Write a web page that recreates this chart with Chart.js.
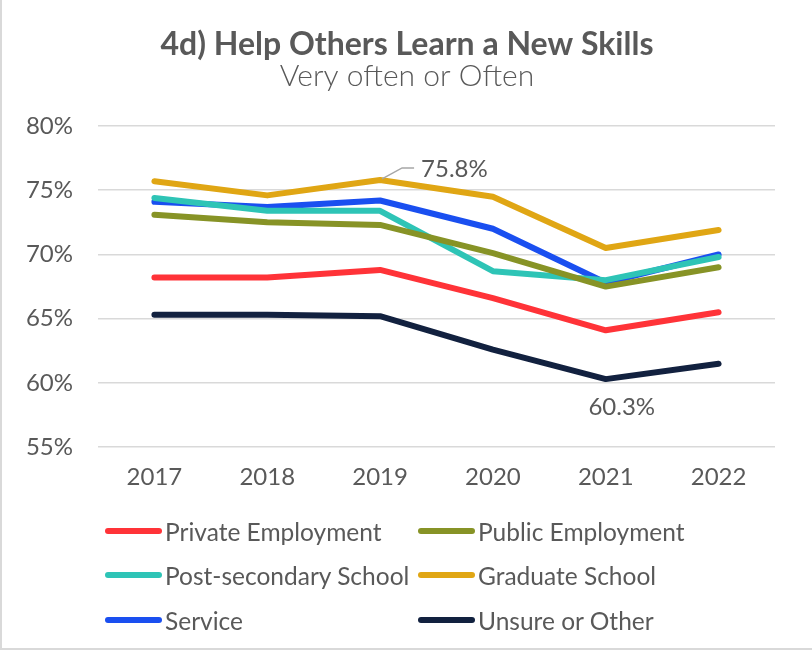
<!DOCTYPE html>
<html>
<head>
<meta charset="utf-8">
<script src="https://cdn.jsdelivr.net/npm/chart.js@4.4.0/dist/chart.umd.min.js"></script>
<style>
  html, body { margin: 0; padding: 0; background: #fff; }
  #wrap { position: relative; width: 812px; height: 650px; box-sizing: border-box;
          border-left: 2px solid #d9d9d9; border-bottom: 2px solid #d9d9d9; }
  #legend { position: absolute; left: 0; top: 0; width: 812px; height: 650px; pointer-events: none;
            font-family: Lato, "Noto Sans", sans-serif; font-size: 24.5px; color: #595959; }
  .item { position: absolute; display: flex; align-items: center; height: 30px; }
  .swatch { width: 57px; height: 6px; border-radius: 3px; margin-right: 3px; }
</style>
</head>
<body>
<div id="wrap">
  <canvas id="chart" width="810" height="648"></canvas>
  <div id="legend"></div>
</div>
<script>
var years = ['2017', '2018', '2019', '2020', '2021', '2022'];

var privateEmployment = [68.2, 68.2, 68.8, 66.6, 64.1, 65.5];
var publicEmployment = [73.1, 72.5, 72.3, 70.1, 67.5, 69.0];
var postSecondary = [74.4, 73.4, 73.4, 68.7, 68.0, 69.8];
var graduateSchool = [75.7, 74.6, 75.8, 74.5, 70.5, 71.9];
var service = [74.1, 73.7, 74.2, 72.0, 67.8, 70.0];
var unsureOther = [65.3, 65.3, 65.2, 62.6, 60.3, 61.5];

var yTicks = [55, 60, 65, 70, 75, 80];

// etiquetas de datos: [serie, indice]
var callouts = [
    { dataset: 3, index: 2, pos: 'leader' },
    { dataset: 5, index: 4, pos: 'below' }
];

var textColor = '#595959';
var font = 'Lato, "Noto Sans", sans-serif';

function serie(label, data, color) {
    return {
        label: label,
        data: data,
        borderColor: color,
        backgroundColor: color,
        borderWidth: 6,
        pointRadius: 0,
        tension: 0,
        borderCapStyle: 'round',
        borderJoinStyle: 'round'
    };
}

var datasets = [
    serie('Private Employment', privateEmployment, '#ff3338'),
    serie('Public Employment', publicEmployment, '#879326'),
    serie('Post-secondary School', postSecondary, '#2ec4b6'),
    serie('Graduate School', graduateSchool, '#e0a614'),
    serie('Service', service, '#1a4ff0'),
    serie('Unsure or Other', unsureOther, '#12213f')
];
// orden de dibujo: el dorado y azul por encima
datasets[3].order = 1;
datasets[4].order = 0;

var calloutPlugin = {
    id: 'callouts',
    afterDatasetsDraw: function (chart) {
        var ctx = chart.ctx;
        ctx.save();
        ctx.font = '24px ' + font;
        ctx.fillStyle = textColor;
        callouts.forEach(function (c) {
            var pt = chart.getDatasetMeta(c.dataset).data[c.index];
            var value = chart.data.datasets[c.dataset].data[c.index];
            var txt = value.toFixed(1) + '%';
            if (c.pos === 'leader') {
                ctx.strokeStyle = '#a6a6a6';
                ctx.lineWidth = 1.5;
                ctx.beginPath();
                ctx.moveTo(pt.x + 2, pt.y - 1);
                ctx.lineTo(pt.x + 22, pt.y - 12);
                ctx.lineTo(pt.x + 34, pt.y - 12);
                ctx.stroke();
                ctx.textAlign = 'left';
                ctx.textBaseline = 'middle';
                ctx.fillText(txt, pt.x + 41, pt.y - 11);
            } else {
                ctx.textAlign = 'center';
                ctx.textBaseline = 'middle';
                ctx.fillText(txt, pt.x + 16, pt.y + 28);
            }
        });
        ctx.restore();
    }
};

var chart = new Chart(document.getElementById('chart'), {
    type: 'line',
    data: { labels: years, datasets: datasets },
    options: {
        responsive: false,
        animation: false,
        layout: { padding: { left: 0, right: 0, top: 12, bottom: 148 } },
        plugins: {
            legend: { display: false },
            tooltip: { enabled: false },
            title: {
                display: true,
                text: '4d) Help Others Learn a New Skills',
                color: textColor,
                font: { family: font, size: 32, weight: 'bold', lineHeight: 1 },
                padding: { top: 17, bottom: 0 }
            },
            subtitle: {
                display: true,
                text: 'Very often or Often',
                color: textColor,
                font: { family: font, size: 30, weight: '300', lineHeight: 1 },
                padding: { top: 0, bottom: 35 }
            }
        },
        scales: {
            x: {
                offset: true,
                grid: { display: false },
                border: { display: false },
                ticks: { color: textColor, font: { family: font, size: 24 }, padding: 8 }
            },
            y: {
                min: 55,
                max: 80,
                afterFit: function (scale) { scale.width = 96; },
                afterBuildTicks: function (scale) {
                    scale.ticks = yTicks.map(function (v) { return { value: v }; });
                },
                grid: { color: '#d9d9d9', lineWidth: 1.5, drawTicks: false },
                border: { display: false },
                ticks: {
                    color: textColor,
                    font: { family: font, size: 24 },
                    padding: 25,
                    callback: function (v) { return v + '%'; }
                }
            },
            // eje vacío a la derecha solo para reservar margen
            margen: {
                type: 'linear',
                position: 'right',
                min: 55,
                max: 80,
                grid: { display: false },
                border: { display: false },
                ticks: { display: false },
                afterFit: function (scale) { scale.width = 37; }
            }
        }
    },
    plugins: [calloutPlugin]
});

// leyenda en dos columnas
var legend = document.getElementById('legend');
var cols = [103, 416];
var rows = [531, 575, 620];
chart.data.datasets.forEach(function (ds, i) {
    var item = document.createElement('div');
    item.className = 'item';
    item.style.left = cols[i % 2] + 'px';
    item.style.top = (rows[Math.floor(i / 2)] - 15) + 'px';
    var sw = document.createElement('div');
    sw.className = 'swatch';
    sw.style.background = ds.borderColor;
    var lb = document.createElement('span');
    lb.textContent = ds.label;
    item.appendChild(sw);
    item.appendChild(lb);
    legend.appendChild(item);
});
</script>
</body>
</html>
